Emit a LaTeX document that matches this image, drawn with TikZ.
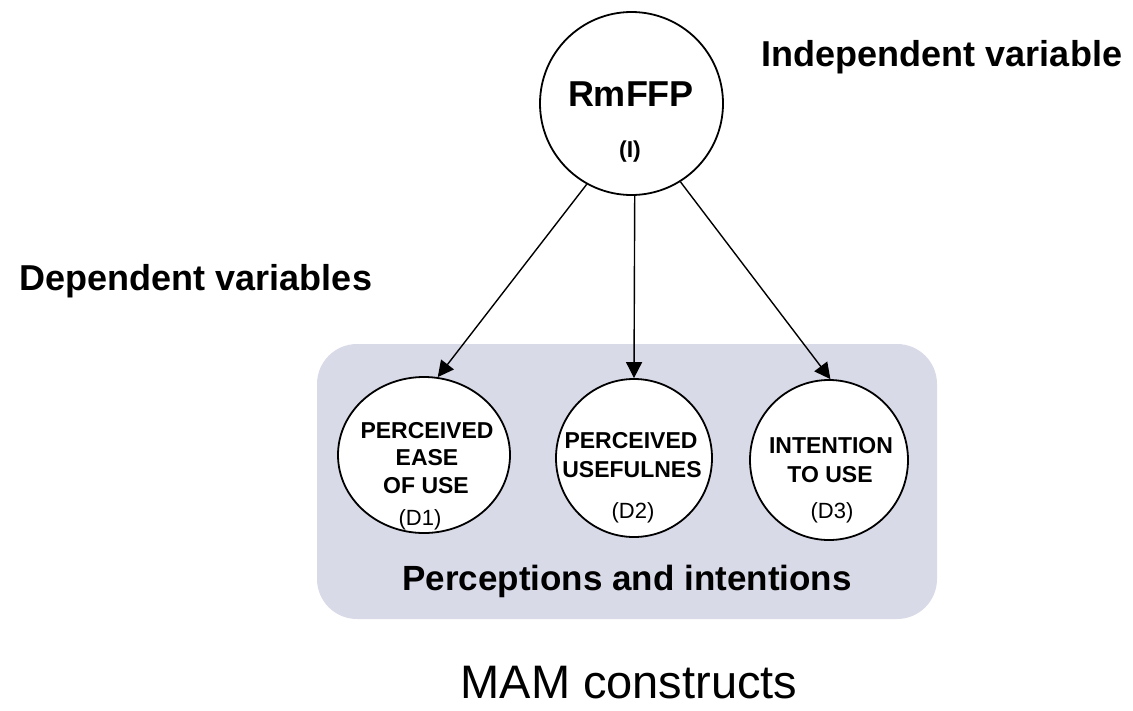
\documentclass[tikz,border=0pt]{standalone}
\usepackage{fontspec}
\setmainfont{Liberation Sans}
\usetikzlibrary{arrows.meta,shapes.geometric}
\definecolor{boxfill}{RGB}{217,218,232}
\tikzset{
  bigcircle/.style={circle,draw=black,line width=1.8pt,fill=white,minimum size=183pt,inner sep=0pt},
  dcircle/.style={ellipse,draw=black,line width=1.8pt,fill=white,inner sep=0pt},
  arr/.style={line width=1.4pt,-{Triangle[length=16pt,width=16pt]}},
  lbl/.style={anchor=base,inner sep=0pt,font=\fontsize{36}{40}\selectfont\bfseries},
  dtxt/.style={anchor=base,inner sep=0pt,font=\fontsize{23}{26}\selectfont\bfseries},
  dnum/.style={anchor=base,inner sep=0pt,font=\fontsize{22}{26}\selectfont},
}
\begin{document}
\begin{tikzpicture}[x=1pt,y=-1pt]
\useasboundingbox (0,0) rectangle (1133,710);
% group box
\fill[boxfill,rounded corners=40pt] (317,344) rectangle (937,619);
% nodes
\node[bigcircle] (rmffp) at (631.5,103.5) {};
\node[lbl] (rmffptxt) at (631,106) {RmFFP};
\node[anchor=base,inner sep=0pt,font=\fontsize{23}{26}\selectfont\bfseries] (itxt) at (630,157) {(I)};
\node[dcircle,minimum width=172pt,minimum height=156pt] (d1) at (424,455) {};
\node[dcircle,minimum width=156pt,minimum height=158pt] (d2) at (634,458) {};
\node[dcircle,minimum width=158pt,minimum height=160pt] (d3) at (829,460) {};
% texts in D1
\node[dtxt] (d1a) at (427,438) {PERCEIVED};
\node[dtxt] (d1b) at (427,465) {EASE};
\node[dtxt] (d1c) at (426,493) {OF USE};
\node[dnum] (d1n) at (420,525) {(D1)};
% texts in D2
\node[dtxt] (d2a) at (631,448) {PERCEIVED};
\node[dtxt] (d2b) at (632,477) {USEFULNES};
\node[dnum] (d2n) at (633,518) {(D2)};
% texts in D3
\node[dtxt] (d3a) at (831,453) {INTENTION};
\node[dtxt] (d3b) at (830,482) {TO USE};
\node[dnum] (d3n) at (832,518) {(D3)};
% labels
\node[lbl] (indep) at (942,66) {Independent variable};
\node[lbl] (dep) at (196,290) {Dependent variables};
\node[lbl,font=\fontsize{35}{40}\selectfont\bfseries] (percint) at (627,590) {Perceptions and intentions};
\node[anchor=base,inner sep=0pt,font=\fontsize{47}{52}\selectfont] (mam) at (629,698) {MAM constructs};
% arrows
\draw[arr] (rmffp.241) -- (d1.80);
\draw[arr] (rmffp.272) -- (d2.north);
\draw[arr] (rmffp.302) -- (d3.89);
\end{tikzpicture}
\end{document}
